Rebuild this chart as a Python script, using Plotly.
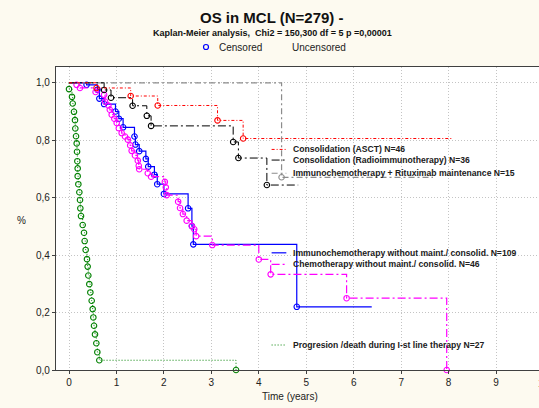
import plotly.graph_objects as go

# ---------------- data ----------------
x_ticks = [0, 1, 2, 3, 4, 5, 6, 7, 8, 9]
y_ticks = [0.0, 0.2, 0.4, 0.6, 0.8, 1.0]
y_tick_labels = ["0,0", "0,2", "0,4", "0,6", "0,8", "1,0"]

# Consolidation (ASCT) N=46
asct_t = [0.58, 1.30, 1.87, 3.13, 3.67]
asct_s = [0.982, 0.954, 0.921, 0.869, 0.806]
asct_end = 8.09

# Consolidation (Radioimmunotherapy) N=36
radio_t = [0.74, 0.885, 1.34, 1.64, 1.73, 3.46, 3.57, 4.17]
radio_s = [0.975, 0.948, 0.920, 0.885, 0.850, 0.794, 0.738, 0.644]
radio_end = 4.83

# Immunochemotherapy + Rituximab maintenance N=15
ritux_t = [4.48]
ritux_s = [0.671]
ritux_end = 7.67

# Immunochemotherapy without maint./ consolid. N=109
immuno_t = [0.37, 0.60, 0.64, 0.74, 0.98, 1.05, 1.14, 1.38, 1.40, 1.48, 1.62, 1.67,
            1.80, 1.86, 2.00, 2.51, 2.59, 2.62, 4.80]
immuno_s = [0.993, 0.976, 0.945, 0.926, 0.900, 0.875, 0.845, 0.813, 0.785, 0.762, 0.735, 0.708,
            0.680, 0.647, 0.613, 0.563, 0.501, 0.4375, 0.220]
immuno_end = 6.38

# Chemotherapy without maint./ consolid. N=46
chemo_t = [0.16, 0.23, 0.56, 0.74, 0.76, 0.83, 0.86, 0.90, 0.955, 1.005,
           1.05, 1.11, 1.18, 1.24, 1.29, 1.32, 1.39, 1.45, 1.47, 1.48,
           1.66, 1.73, 2.02, 2.04, 2.06, 2.30, 2.34, 2.40, 2.48, 2.59,
           2.64, 2.68, 3.02, 4.00, 4.25, 5.85, 7.96]
chemo_s = [0.993, 0.982, 0.968, 0.958, 0.935, 0.921, 0.906, 0.889, 0.875, 0.860,
           0.842, 0.825, 0.813, 0.802, 0.782, 0.763, 0.747, 0.729, 0.711, 0.699,
           0.685, 0.673, 0.655, 0.636, 0.609, 0.586, 0.564, 0.543, 0.520, 0.501,
           0.490, 0.466, 0.435, 0.385, 0.333, 0.250, 0.0]
chemo_end = 7.96

# Progresion /death during I-st line therapy N=27
prog_t = [0.0, 0.063, 0.078, 0.105, 0.126, 0.133, 0.148, 0.162, 0.169,
          0.176, 0.183, 0.183, 0.197, 0.218, 0.232, 0.239, 0.253, 0.288, 0.316,
          0.330, 0.351, 0.379, 0.393, 0.407, 0.428, 0.450, 0.478, 0.499, 0.513,
          0.527, 0.548, 0.576, 0.597, 0.639, 3.52]
prog_s = [0.978, 0.951, 0.928, 0.899, 0.870, 0.841, 0.814, 0.789, 0.760,
          0.727, 0.702, 0.675, 0.647, 0.619, 0.592, 0.563, 0.536, 0.505, 0.478,
          0.449, 0.418, 0.386, 0.360, 0.329, 0.299, 0.270, 0.241, 0.212, 0.183,
          0.154, 0.124, 0.093, 0.062, 0.034, 0.0]
prog_end = 3.52

series = [
    dict(name="Immunochemotherapy without maint./ consolid. N=109", t=immuno_t, s=immuno_s,
         end=immuno_end, color="#0000FF", dash="solid", width=1.2),
    dict(name="Chemotherapy without maint./ consolid. N=46", t=chemo_t, s=chemo_s,
         end=chemo_end, color="#FF00FF", dash="8px,3px,2px,3px", width=1.2),
    dict(name="Progresion /death during I-st line therapy N=27", t=prog_t, s=prog_s,
         end=prog_end, color="#008000", dash="1px,2px", width=1),
    dict(name="Immunochemotherapy + Rituximab maintenance N=15", t=ritux_t, s=ritux_s,
         end=ritux_end, color="#8C8C8C", dash="6px,3px,2px,3px", width=1.2),
    dict(name="Consolidation (Radioimmunotherapy) N=36", t=radio_t, s=radio_s,
         end=radio_end, color="#000000", dash="8px,3px,2px,3px", width=1),
    dict(name="Consolidation (ASCT) N=46", t=asct_t, s=asct_s,
         end=asct_end, color="#FF0000", dash="3px,2px,1px,2px", width=1),
]

FONT = "Liberation Sans, Arial, sans-serif"

fig = go.Figure()
for sr in series:
    xs = [0.0] + list(sr["t"])
    ys = [1.0] + list(sr["s"])
    if sr["end"] > xs[-1]:
        xs.append(sr["end"])
        ys.append(ys[-1])
    fig.add_trace(go.Scatter(
        x=xs, y=ys, mode="lines", line=dict(color=sr["color"], dash=sr["dash"],
                                            width=sr["width"], shape="hv"),
        showlegend=False, hoverinfo="skip", cliponaxis=False))
    fig.add_trace(go.Scatter(
        x=sr["t"], y=sr["s"], mode="markers",
        marker=dict(symbol="circle-open", size=5.5, color=sr["color"], line=dict(width=1.1)),
        showlegend=False, hoverinfo="skip", cliponaxis=False))

# in-plot legend (line samples + labels), positions in data units
legend_rows = [
    (0.768, 0),
    (0.731, 1),
    (0.685, 2),
    (0.408, 3),
    (0.368, 4),
    (0.087, 5),
]
legend_order = ["Consolidation (ASCT) N=46",
                "Consolidation (Radioimmunotherapy) N=36",
                "Immunochemotherapy + Rituximab maintenance N=15",
                "Immunochemotherapy without maint./ consolid. N=109",
                "Chemotherapy without maint./ consolid. N=46",
                "Progresion /death during I-st line therapy N=27"]
by_name = {sr["name"]: sr for sr in series}
for (yy, idx) in legend_rows:
    sr = by_name[legend_order[idx]]
    fig.add_trace(go.Scatter(
        x=[4.27, 4.58], y=[yy, yy], mode="lines",
        line=dict(color=sr["color"], dash=sr["dash"], width=sr["width"]),
        showlegend=False, hoverinfo="skip"))
    fig.add_annotation(x=4.68, y=yy, xref="x", yref="y", text="<b>" + sr["name"] + "</b>",
                       showarrow=False, xanchor="left", yanchor="middle",
                       font=dict(family=FONT, size=8.6, color="#202020"))

W, H = 539, 408
ML, MR, MT, MB = 56, 0, 67, 38
pw, ph = W - ML - MR, H - MT - MB


def px(xp):
    return (xp - ML) / pw


def py(yp):
    return (H - MB - yp) / ph


def txt(text, x, y, size=10, xanchor="center", color="#222222"):
    fig.add_annotation(x=px(x), y=py(y), xref="paper", yref="paper", text=text,
                       showarrow=False, xanchor=xanchor, yanchor="middle",
                       font=dict(family=FONT, size=size, color=color))


txt("<b>OS in MCL (N=279) -</b>", 272, 17, size=15, color="#111111")
txt("<b>Kaplan-Meier analysis,  Chi2 = 150,300 df = 5 p =0,00001</b>", 272, 33, size=9,
    color="#111111")

# top legend: Censored / Uncensored
fig.add_shape(type="circle", xref="paper", yref="paper", xsizemode="pixel", ysizemode="pixel",
              xanchor=px(206), yanchor=py(47), x0=-2.5, x1=2.5, y0=-2.5, y1=2.5,
              line=dict(color="#0000FF", width=1.2))
txt("Censored", 217, 47, xanchor="left")
txt("Uncensored", 290, 47, xanchor="left")

# axis titles
txt("%", 21, 221)
txt("Time (years)", 290, 396)
# last x tick label, cut by the right edge as in the original
txt("10", 543.5, 383)

fig.update_layout(
    width=W, height=H,
    margin=dict(l=ML, r=MR, t=MT, b=MB),
    paper_bgcolor="#FDFAF0", plot_bgcolor="#FFFFFF",
    font=dict(family=FONT, size=10, color="#222222"),
    showlegend=False,
)
fig.update_xaxes(range=[-0.274, 9.905], tickvals=x_ticks, showgrid=True,
                 gridcolor="#C4C4C4", griddash="1px,2px", gridwidth=1,
                 showline=True, linecolor="#404040", linewidth=1.2, mirror=True,
                 ticks="outside", ticklen=3, tickcolor="#404040", zeroline=False,
                 tickfont=dict(size=10))
fig.update_yaxes(range=[0, 1.055], tickvals=y_ticks, ticktext=y_tick_labels, showgrid=True,
                 gridcolor="#C4C4C4", griddash="1px,2px", gridwidth=1,
                 showline=True, linecolor="#404040", linewidth=1.2,
                 ticks="outside", ticklen=3, tickcolor="#404040", zeroline=False,
                 tickfont=dict(size=10))

fig.write_html("out.html", config={"displayModeBar": False},
               post_script="document.body.style.margin='0';document.body.style.overflow='hidden';")
